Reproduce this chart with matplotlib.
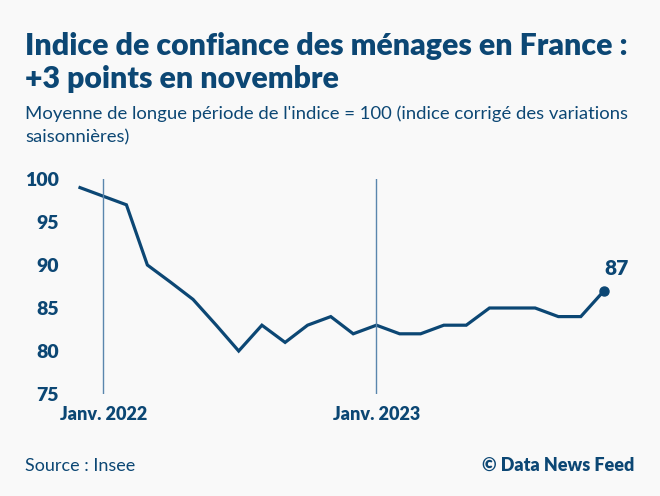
import numpy as np
import pandas as pd
import matplotlib
matplotlib.use('Agg')
import matplotlib.pyplot as plt

plt.rcParams['font.family'] = ['Lato', 'DejaVu Sans']

# monthly index, Dec 2021 -> Nov 2023
months = pd.date_range('2021-12-01', periods=24, freq='MS')
values = [99, 98, 97, 90, 88, 86, 83, 80, 83, 81, 83, 84,
          82, 83, 82, 82, 83, 83, 85, 85, 85, 84, 84, 87]
yticks = [75, 80, 85, 90, 95, 100]
xticks = [pd.Timestamp('2022-01-01'), pd.Timestamp('2023-01-01')]
xlabels = ['Janv. 2022', 'Janv. 2023']

BLUE = '#0c4774'
LINE_V = '#5a86ad'
BG = '#f9f9f9'
W, H = 660, 496

fig = plt.figure(figsize=(W/100, H/100), dpi=100, facecolor=BG)
ax = fig.add_axes([80/W, 1 - 394/H, (604-80)/W, (394-179)/H])
ax.set_facecolor(BG)

ax.plot(months, values, color=BLUE, lw=2.3, clip_on=False, solid_joinstyle='miter')
ax.plot(months[-1], values[-1], 'o', color=BLUE, ms=6.5, clip_on=False)
ax.annotate(str(values[-1]), (months[-1], values[-1]), xytext=(9, 9),
            textcoords='offset points', ha='center', va='bottom',
            fontsize=15, fontweight='heavy', color=BLUE)

for d in xticks:
    ax.axvline(d, color=LINE_V, lw=1)

ax.set_xlim(months[0], months[-1])
ax.set_ylim(75, 100)
ax.set_yticks(yticks)
ax.set_xticks(xticks)
ax.set_xticklabels(xlabels)
ax.tick_params(length=0, labelsize=14, labelcolor=BLUE)
ax.tick_params(axis='y', pad=15)
ax.tick_params(axis='x', pad=9, labelsize=13)
for lab in ax.get_xticklabels() + ax.get_yticklabels():
    lab.set_fontweight('heavy')
for s in ax.spines.values():
    s.set_visible(False)

fig.text(25/W, 1 - 55/H, 'Indice de confiance des ménages en France :',
         fontsize=21.8, fontweight='heavy', color=BLUE, va='baseline')
fig.text(25/W, 1 - 88/H, '+3 points en novembre',
         fontsize=21.8, fontweight='heavy', color=BLUE, va='baseline')
fig.text(25/W, 1 - 119/H, "Moyenne de longue période de l'indice = 100 (indice corrigé des variations",
         fontsize=13.3, color=BLUE, va='baseline')
fig.text(25/W, 1 - 142/H, 'saisonnières)',
         fontsize=13.3, color=BLUE, va='baseline')
fig.text(25/W, 1 - 471/H, 'Source : Insee',
         fontsize=13, color=BLUE, va='baseline')
fig.text(634/W, 1 - 471/H, '© Data News Feed',
         fontsize=13, fontweight='heavy', color=BLUE, va='baseline', ha='right')

fig.savefig('out.png', dpi=100, facecolor=BG)
